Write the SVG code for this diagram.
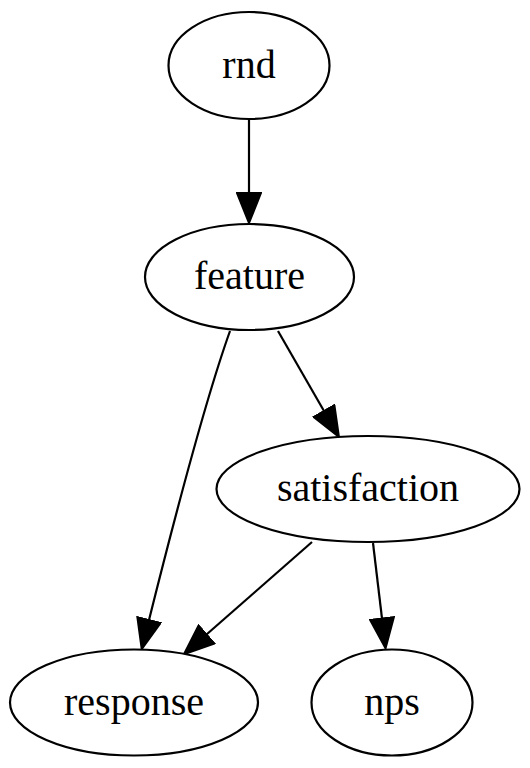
<svg xmlns="http://www.w3.org/2000/svg" width="530" height="768" viewBox="0 0 530 768">
<defs>
<style>
.node ellipse{fill:#fff;stroke:#000;stroke-width:2.2}
.node text{font-family:"Liberation Serif","Times New Roman",serif;font-size:40px;fill:#000;text-anchor:middle}
.edge{fill:none;stroke:#000;stroke-width:2.2;marker-end:url(#arrow)}
</style>
<marker id="arrow" viewBox="-1 -1 32 26" refX="0" refY="12" markerWidth="32" markerHeight="26" markerUnits="userSpaceOnUse" orient="auto">
<path d="M0,0 L30,12 L0,24 Z" fill="#000" stroke="#000" stroke-width="2"/>
</marker>
</defs>
<rect width="530" height="768" fill="#fff"/>
<g id="edges">
<path class="edge" d="M249,119 L249,193"/>
<path class="edge" d="M230,331 C206,398 172,528 149,620"/>
<path class="edge" d="M278,331 L324,411"/>
<path class="edge" d="M312,542 L206.5,634.5"/>
<path class="edge" d="M373,543 L382,618.5"/>
</g>
<g id="rnd" class="node"><ellipse cx="249" cy="65.5" rx="80.5" ry="53.5"/><text x="249" y="77.5">rnd</text></g>
<g id="feature" class="node"><ellipse cx="249.5" cy="277" rx="104.5" ry="53"/><text x="249.5" y="289">feature</text></g>
<g id="satisfaction" class="node"><ellipse cx="368" cy="489" rx="151.5" ry="53"/><text x="368" y="501">satisfaction</text></g>
<g id="response" class="node"><ellipse cx="134" cy="702.5" rx="124" ry="53"/><text x="134" y="714.5">response</text></g>
<g id="nps" class="node"><ellipse cx="392" cy="702.5" rx="80.5" ry="53"/><text x="392" y="714.5">nps</text></g>
</svg>
